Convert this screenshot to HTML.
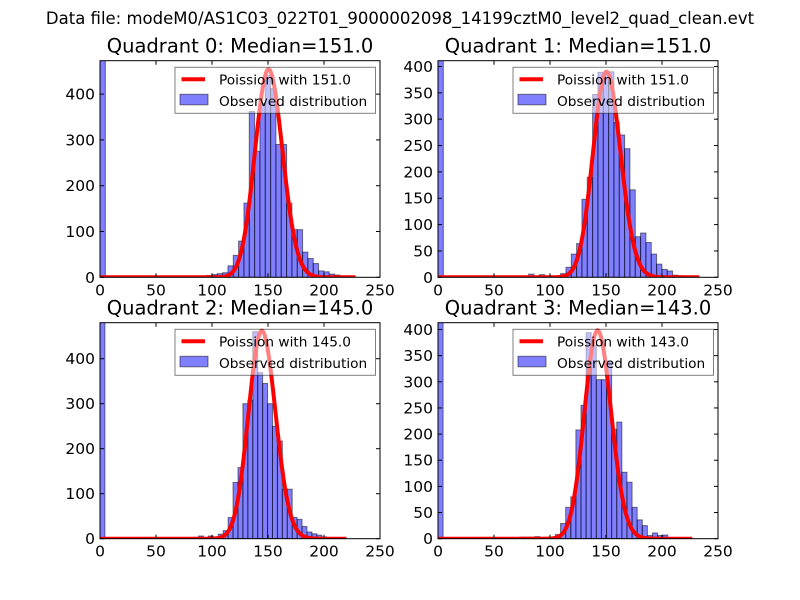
<!DOCTYPE html>
<html><head><meta charset="utf-8"><style>
body{margin:0;background:#fff}
svg{display:block;font-family:"DejaVu Sans","Liberation Sans",sans-serif}
</style></head><body>
<svg id="fig" width="800" height="600" viewBox="0 0 800 600" xmlns="http://www.w3.org/2000/svg">
<rect width="800" height="600" fill="#fff"/>
<text x="400" y="24" text-anchor="middle" font-size="16.5">Data file: modeM0/AS1C03_022T01_9000002098_14199cztM0_level2_quad_clean.evt</text>
</svg>
<script>
const q0Counts=[600,0,0,0,0,0,0,0,0,0,0,0,0,0,0,0,0,2,0,3,4,6,8,10,25,48,79,162,362,275,380,441,412,290,290,162,104,104,55,41,30,14,12,7,5,3,2,1,0,0];
const q1Counts=[600,0,0,0,0,0,0,0,0,0,0,0,0,0,0,0,0,6,0,5,0,0,0,7,19,44,64,148,190,347,389,385,390,294,270,244,166,77,84,66,44,25,15,12,4,3,0,0,2,0];
const q2Counts=[600,0,0,0,0,0,0,0,0,0,0,0,0,0,0,0,0,0,0,3,6,0,6,4,10,18,47,125,158,300,308,460,369,345,300,250,217,110,110,47,43,27,15,11,8,4,0,0,0,0];
const q3Counts=[600,0,0,0,0,0,0,0,0,0,0,0,0,0,0,0,3,3,3,4,0,2,3,8,29,60,80,208,255,394,370,304,304,340,209,223,127,108,60,36,25,6,11,6,7,0,0,0,0,0];
const binWidths=[4.76,4.76,4.4,4.56];
const medians=[151,151,145,143];
const curvePeaks=[454,390,462,398];
const yMaxes=[473,411,480,413];
const yTickSteps=[100,50,100,50];
const curveEnds=[228,233,220,227];
const xTicks=[0,50,100,150,200,250];
const allCounts=[q0Counts,q1Counts,q2Counts,q3Counts];

const NS="http://www.w3.org/2000/svg";
const svg=document.getElementById('fig');
function mk(tag,attrs,parent){const e=document.createElementNS(NS,tag);for(const k in attrs)e.setAttribute(k,attrs[k]);(parent||svg).appendChild(e);return e;}
const boxes=[[100,60.7,280,216.6],[438,60.7,280,216.6],[100,322.7,280,216],[438,322.7,280,216]];
function lnFact(n){let s=0;for(let i=2;i<=n;i++)s+=Math.log(i);return s;}

for(let q=0;q<4;q++){
  const [bx,by,bw,bh]=boxes[q];
  const xS=v=>bx+v*bw/250;
  const yS=v=>by+bh-v*bh/yMaxes[q];
  const g=mk('g',{});
  
  
  const cp=mk('clipPath',{id:'c'+q},g);
  mk('rect',{x:bx,y:by,width:bw,height:bh},cp);
  const t=mk('text',{x:bx+bw/2,y:by-8,'text-anchor':'middle','font-size':'19.5'},g);
  t.textContent='Quadrant '+q+': Median='+medians[q].toFixed(1);
  
  
  const bars=mk('g',{'clip-path':'url(#c'+q+')'},g);
  const counts=allCounts[q];
  for(let k=0;k<counts.length;k++){
    if(!counts[k])continue;
    const x0=xS(k*binWidths[q]),x1=xS((k+1)*binWidths[q]);
    const r=mk('rect',{x:x0,y:yS(counts[k]),width:x1-x0,height:yS(0)-yS(counts[k]),fill:'rgba(0,0,255,0.5)',stroke:'rgba(0,0,0,0.5)','stroke-width':1},bars);
    
    
  }
  const mu=medians[q];const ref=Math.floor(mu)*Math.log(mu)-mu-lnFact(Math.floor(mu));
  let d='';
  for(let k=0;k<=curveEnds[q];k++){
    const lp=k*Math.log(mu)-mu-lnFact(k);
    const v=curvePeaks[q]*Math.exp(lp-ref);
    d+=(k?'L':'M')+xS(k).toFixed(2)+' '+yS(v).toFixed(2);
  }
  const pl=mk('path',{d:d,fill:'none',stroke:'#ff0000','stroke-width':4,'stroke-linejoin':'round','clip-path':'url(#c'+q+')'},g);
  
  
  mk('rect',{x:bx,y:by,width:bw,height:bh,fill:'none',stroke:'#000','stroke-width':1},g);
  for(const v of xTicks){
    const x=xS(v);
    mk('line',{x1:x,x2:x,y1:by+bh,y2:by+bh-4,stroke:'#000'},g);
    mk('line',{x1:x,x2:x,y1:by,y2:by+4,stroke:'#000'},g);
    const tl=mk('text',{x:x,y:by+bh+18,'text-anchor':'middle','font-size':'15.5'},g);
    tl.textContent=v;
    
    
  }
  for(let v=0;v<=yMaxes[q];v+=yTickSteps[q]){
    const y=yS(v);
    mk('line',{x1:bx,x2:bx+4,y1:y,y2:y,stroke:'#000'},g);
    mk('line',{x1:bx+bw,x2:bx+bw-4,y1:y,y2:y,stroke:'#000'},g);
    const tl=mk('text',{x:bx-5,y:y+5.5,'text-anchor':'end','font-size':'15.5'},g);
    tl.textContent=v;
    
    
  }
  const lg=mk('g',{},g);
  
  
  const lx=bx+bw-205,ly=by+6.6;
  mk('rect',{x:lx,y:ly,width:200.5,height:46,fill:'rgba(255,255,255,0.5)',stroke:'rgba(0,0,0,0.5)','stroke-width':1},lg);
  mk('line',{x1:lx+6.5,x2:lx+30,y1:ly+12,y2:ly+12,stroke:'#ff0000','stroke-width':4},lg);
  mk('rect',{x:lx+5,y:ly+27,width:28,height:10.5,fill:'rgba(0,0,255,0.5)',stroke:'rgba(0,0,0,0.5)'},lg);
  const l1=mk('text',{x:lx+44,y:ly+17,'font-size':'13.7'},lg);
  l1.textContent='Poission with '+medians[q].toFixed(1);
  
  
  const l2=mk('text',{x:lx+44,y:ly+38.5,'font-size':'13.7'},lg);
  l2.textContent='Observed distribution';
  
  
}
</script>
</body></html>
